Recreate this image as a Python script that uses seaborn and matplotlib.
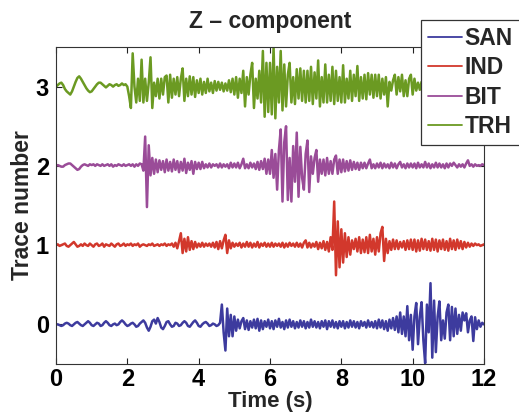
import numpy as np
import pandas as pd
import matplotlib
matplotlib.use("Agg")
import matplotlib.pyplot as plt
import seaborn as sns

# ---- data (deviation from each trace's baseline, sampled every 0.05 s from 0 to 12 s) ----
stations = ["SAN", "IND", "BIT", "TRH"]
trace_numbers = [0, 1, 2, 3]
x_ticks = [0, 2, 4, 6, 8, 10, 12]
y_ticks = [0, 1, 2, 3]
time_step = 0.05

trh = [
    0, 0.02, 0.04, 0.05, 0.02, -0.03, -0.06, -0.08, -0.10, -0.06, 0.00, 0.06, 0.11, 0.13, 0.10, 0.06, 0.02, -0.02, -0.05, -0.07,
    -0.06, -0.03, 0.00, 0.03, 0.05, 0.05, 0.03, 0.01, -0.01, 0.01, 0.03, 0.02, 0.00, 0.02, 0.03, 0.01, 0.02, 0.04, 0.02, 0.03,
    0.00, -0.12, -0.27, 0.42, 0.00, -0.20, 0.10, -0.18, 0.34, -0.20, 0.10, -0.18, 0.05, 0.37, -0.27, 0.05, -0.12, 0.10, -0.15, 0.10,
    -0.10, 0.12, 0.14, -0.20, 0.15, -0.14, 0.10, -0.10, 0.12, -0.12, 0.10, 0.23, -0.18, 0.10, -0.12, 0.13, -0.10, 0.12, -0.13, 0.08,
    -0.08, 0.10, -0.10, 0.06, -0.08, 0.10, -0.06, 0.05, -0.08, 0.07, -0.05, 0.06, -0.04, 0.05, -0.06, 0.04, -0.05, 0.08, -0.07, 0.10,
    -0.10, 0.12, -0.14, 0.10, -0.08, 0.20, -0.25, 0.12, -0.10, 0.15, 0.30, -0.27, 0.10, -0.15, 0.20, -0.20, 0.45, -0.38, 0.30, -0.32,
    0.30, -0.35, 0.50, -0.40, 0.25, -0.20, 0.45, -0.30, 0.28, -0.25, 0.15, 0.30, -0.20, 0.12, -0.22, 0.22, -0.15, 0.23, -0.18, 0.20,
    -0.20, 0.20, -0.18, 0.25, -0.22, 0.18, -0.15, 0.33, -0.25, 0.12, -0.20, 0.28, -0.20, 0.15, -0.18, 0.25, -0.22, 0.20, -0.18, 0.12,
    -0.20, 0.27, -0.20, 0.10, -0.15, 0.20, -0.18, 0.15, -0.12, 0.26, -0.18, 0.12, -0.15, 0.15, -0.16, 0.17, -0.10, 0.15, -0.14, 0.15,
    -0.12, 0.15, -0.15, 0.10, -0.10, 0.12, -0.25, 0.06, -0.05, 0.08, 0.15, -0.10, 0.12, -0.06, 0.15, -0.12, 0.08, -0.12, 0.10, 0.15,
    -0.10, 0.10, -0.05, 0.05, -0.04, 0.06, -0.05, 0.04, -0.03, 0.05, -0.04, 0.03, -0.05, 0.04, -0.03, 0.04, -0.02, 0.03, -0.04, 0.03,
    -0.02, 0.03, -0.03, 0.02, -0.02, 0.03, -0.02, 0.02, -0.03, 0.02, -0.01, 0.02, -0.02, 0.01, -0.01, 0.02, 0.00, 0.01, -0.01, 0.00, 0.00,
]

bit = [
    0, 0.01, 0, -0.01, -0.01, 0.01, 0.02, 0.03, 0.03, 0.01, -0.01, -0.03, -0.05, -0.04, -0.01, 0.01, 0.02, 0.01, 0.00, 0.02,
    0.01, 0.02, 0.00, 0.02, 0.01, 0.00, 0.02, 0.00, 0.01, 0.02, 0.00, 0.02, -0.01, 0.01, 0.00, 0.02, 0.01, 0.00, 0.02, 0.00,
    0.01, 0.02, 0.00, 0.02, -0.01, 0.02, 0.00, 0.03, 0.02, -0.06, 0.37, -0.52, 0.26, -0.12, 0.10, -0.10, 0.08, -0.08, 0.07, -0.05,
    0.06, -0.08, 0.08, -0.06, 0.05, -0.07, 0.08, -0.05, 0.06, -0.08, 0.05, -0.06, 0.09, -0.09, 0.04, -0.05, 0.06, -0.10, 0.05, -0.04,
    0.04, -0.04, 0.05, -0.03, 0.02, -0.02, 0.03, -0.02, 0.02, 0.00, 0.02, -0.02, 0.03, -0.02, 0.02, -0.01, 0.02, -0.03, 0.04, -0.02,
    0.03, -0.02, 0.04, -0.03, 0.02, 0.09, -0.03, 0.02, -0.03, 0.04, -0.02, 0.03, -0.04, 0.05, -0.05, 0.06, -0.04, 0.09, -0.10, 0.08,
    -0.10, 0.20, -0.15, 0.15, -0.30, 0.20, 0.46, -0.45, 0.30, 0.50, -0.43, 0.10, -0.45, 0.25, -0.20, 0.42, -0.39, 0.24, -0.15, -0.30,
    0.15, 0.32, -0.33, 0.12, -0.10, 0.10, 0.20, -0.20, 0.08, -0.10, 0.08, -0.12, 0.10, -0.10, 0.06, -0.10, 0.08, 0.13, -0.10, 0.08,
    -0.08, 0.08, -0.07, 0.06, -0.06, 0.07, -0.05, 0.05, -0.04, 0.04, -0.05, 0.04, -0.03, 0.04, -0.03, 0.03, 0.08, -0.03, 0.02, -0.03,
    0.03, -0.02, 0.04, -0.03, 0.03, -0.02, 0.02, -0.03, 0.04, -0.02, 0.03, -0.03, 0.02, 0.05, -0.02, 0.02, -0.03, 0.03, -0.02, 0.03,
    -0.02, 0.03, -0.03, 0.04, -0.02, 0.02, -0.02, 0.05, -0.02, 0.03, -0.03, 0.02, -0.02, 0.04, -0.02, 0.03, -0.02, 0.02, -0.03, 0.03,
    -0.02, 0.03, 0.00, 0.04, 0.01, -0.02, 0.02, -0.01, 0.02, -0.02, 0.03, 0.07, 0.00, 0.02, -0.01, 0.02, 0.00, 0.01, 0.00, 0.02, 0.01,
]

ind = [
    0, 0.01, -0.01, 0.00, 0.01, 0.02, -0.01, -0.02, 0.00, 0.02, 0.04, 0.01, -0.02, -0.01, 0.01, -0.01, 0.02, 0.00, -0.01, 0.02,
    0.00, -0.02, 0.01, 0.02, -0.01, 0.00, 0.02, -0.02, 0.01, 0.00, -0.01, 0.02, 0.00, -0.02, 0.01, 0.02, -0.01, 0.00, 0.02, -0.01,
    0.01, 0.00, 0.02, -0.01, 0.01, 0.00, 0.02, -0.02, 0.00, 0.01, 0.00, -0.01, 0.01, 0.00, 0.02, -0.01, 0.00, 0.01, -0.01, 0.01,
    0.00, 0.02, -0.01, 0.01, 0.00, 0.02, -0.02, 0.03, -0.04, 0.05, 0.15, -0.10, 0.08, -0.08, 0.10, -0.06, 0.05, -0.05, 0.04, -0.03,
    0.02, -0.02, 0.03, -0.02, 0.02, -0.01, 0.02, -0.02, 0.03, -0.03, 0.04, -0.05, 0.05, -0.04, 0.06, 0.13, -0.10, 0.06, -0.04, 0.03,
    -0.02, 0.02, -0.01, 0.03, -0.03, 0.02, -0.02, 0.04, -0.02, 0.03, -0.03, 0.02, -0.02, 0.04, -0.03, 0.02, -0.01, 0.03, -0.02, 0.02,
    -0.02, 0.03, -0.02, 0.02, -0.01, 0.02, -0.02, 0.03, -0.03, 0.02, -0.02, 0.03, -0.01, 0.02, -0.02, 0.03, -0.02, 0.02, -0.03, 0.03,
    0.06, -0.03, 0.03, -0.03, 0.02, -0.02, 0.04, -0.05, 0.03, -0.04, 0.05, -0.06, 0.04, -0.08, 0.10, -0.06, 0.55, -0.38, 0.30, -0.28,
    0.20, -0.22, 0.15, -0.15, 0.10, -0.12, 0.06, -0.05, 0.08, -0.08, 0.10, -0.10, 0.07, -0.09, 0.10, -0.10, 0.13, -0.08, 0.08, -0.12,
    0.10, -0.08, 0.15, 0.23, -0.20, 0.08, -0.10, 0.05, -0.06, 0.07, -0.05, 0.06, -0.05, 0.04, -0.03, 0.05, -0.06, 0.06, -0.05, 0.07,
    -0.06, 0.07, -0.08, 0.06, -0.07, 0.08, -0.05, 0.07, -0.06, 0.05, -0.07, 0.08, -0.06, 0.07, -0.08, 0.06, -0.05, 0.07, -0.06, 0.05,
    -0.07, 0.08, -0.05, 0.06, -0.06, 0.07, -0.04, 0.05, -0.05, 0.04, -0.03, 0.03, -0.02, 0.02, -0.01, 0.02, 0.00, 0.01, -0.01, 0.00, 0.01,
]

san = [
    0, 0.00, -0.01, -0.02, -0.01, 0.01, 0.02, 0.01, -0.01, -0.02, 0.00, 0.02, 0.03, 0.01, -0.01, -0.02, 0.00, 0.02, 0.04, 0.02,
    -0.01, -0.02, 0.00, 0.02, 0.01, -0.02, -0.01, 0.02, 0.04, 0.02, -0.01, -0.02, 0.00, 0.01, -0.01, 0.00, 0.03, 0.05, 0.03, 0.00,
    -0.02, -0.01, 0.01, 0.02, 0.00, -0.03, -0.02, 0.01, 0.03, 0.05, 0.02, -0.04, -0.08, -0.03, 0.04, 0.06, 0.01, 0.08, 0.03, -0.04,
    -0.06, -0.02, 0.03, 0.04, 0.00, -0.03, -0.02, 0.02, 0.01, -0.02, -0.01, 0.02, 0.04, 0.02, -0.02, -0.03, 0.00, 0.03, 0.05, 0.02,
    -0.02, -0.03, 0.00, 0.02, 0.03, 0.01, -0.02, -0.01, 0.01, 0.00, -0.02, -0.01, 0.02, 0.25, -0.10, -0.33, 0.20, -0.15, 0.12, -0.15,
    0.10, -0.08, 0.06, -0.05, 0.04, 0.08, -0.06, 0.05, -0.07, 0.04, -0.04, 0.06, -0.05, 0.07, -0.08, 0.05, -0.06, 0.04, -0.03, 0.06,
    -0.05, 0.04, -0.06, 0.05, -0.03, 0.07, -0.04, 0.03, -0.06, 0.05, -0.04, 0.06, -0.03, 0.04, -0.05, 0.03, -0.04, 0.05, -0.03, 0.04,
    -0.05, 0.03, -0.04, 0.06, -0.03, 0.04, -0.04, 0.03, -0.05, 0.04, -0.03, 0.05, -0.06, 0.04, -0.03, 0.05, -0.04, 0.03, -0.05, 0.04,
    -0.03, 0.04, -0.05, 0.03, -0.04, 0.05, -0.03, 0.04, -0.04, 0.03, -0.05, 0.04, -0.02, 0.03, -0.04, 0.05, -0.03, 0.03, -0.04, 0.04,
    -0.05, 0.06, -0.04, 0.05, -0.06, 0.04, -0.08, 0.06, -0.05, 0.08, -0.07, 0.10, -0.10, 0.15, -0.12, 0.10, -0.15, 0.23, -0.20, 0.12,
    -0.32, 0.10, 0.27, -0.25, 0.10, 0.28, -0.20, -0.49, 0.25, -0.10, 0.52, -0.42, 0.30, -0.35, 0.10, 0.29, -0.20, 0.05, -0.18, 0.15,
    0.25, -0.20, 0.22, -0.15, 0.20, -0.12, 0.12, -0.08, 0.15, 0.05, 0.14, -0.10, 0.05, 0.10, -0.21, 0.09, -0.06, 0.05, -0.03, 0.02, 0.00,
]

colors = {"SAN": "#3d3b9e", "IND": "#d2382c", "BIT": "#9a4c98", "TRH": "#6b9a22"}

# ---- build long table ----
series = {"SAN": san, "IND": ind, "BIT": bit, "TRH": trh}
frames = []
for st, tn in zip(stations, trace_numbers):
    vals = np.asarray(series[st], dtype=float)
    t = np.arange(len(vals)) * time_step
    frames.append(pd.DataFrame({"Time": t, "Value": vals + tn, "Station": st}))
df = pd.concat(frames, ignore_index=True)

sns.set_style("ticks")
plt.rcParams["font.family"] = ["Liberation Sans", "DejaVu Sans"]
plt.rcParams["font.weight"] = "bold"

fig = plt.figure(figsize=(5.19, 4.19), dpi=100)
ax = fig.add_axes([56 / 519, 1 - 364 / 419, (484 - 56) / 519, (364 - 47) / 419])

sns.lineplot(data=df, x="Time", y="Value", hue="Station", hue_order=stations,
             palette=colors, linewidth=1.8, ax=ax, sort=False, estimator=None)

ax.set_xlim(0, 12)
ax.set_ylim(-0.5, 3.5)
ax.set_xticks(x_ticks)
ax.set_yticks(y_ticks)
ax.tick_params(direction="in", length=4, width=0.8, top=True, right=True,
               labelsize=17, pad=5, colors="#222222", labelcolor="black")
ax.tick_params(axis="x", pad=3)
for lab in ax.get_xticklabels() + ax.get_yticklabels():
    lab.set_fontweight("bold")
for sp in ax.spines.values():
    sp.set_visible(True)
    sp.set_linewidth(0.8)
    sp.set_color("#333333")

ax.set_xlabel("Time (s)", fontsize=16, fontweight="bold", labelpad=0)
ax.set_ylabel("Trace number", fontsize=16.5, fontweight="bold", labelpad=1)
ax.set_title("Z – component", fontsize=16.5, fontweight="bold", pad=14)

leg = ax.legend(loc="upper left", bbox_to_anchor=(421 / 519, 1 - 20 / 419),
                bbox_transform=fig.transFigure, borderaxespad=0,
                frameon=True, fancybox=False, framealpha=1, edgecolor="#333333",
                handlelength=1.5, handletextpad=0.1, labelspacing=0.28,
                borderpad=0.3, prop={"size": 16.5, "weight": "bold"})
leg.get_frame().set_linewidth(0.9)
for line in leg.get_lines():
    line.set_linewidth(1.3)

fig.savefig("out.png", dpi=100)
